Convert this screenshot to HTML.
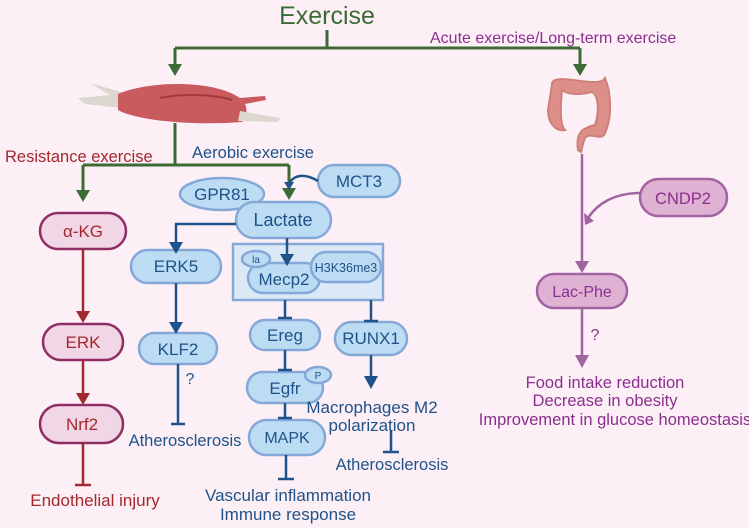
<!DOCTYPE html>
<html><head><meta charset="utf-8"><style>
html,body{margin:0;padding:0;background:#fcf0f6;}
svg{display:block;font-family:"Liberation Sans",sans-serif;}
</style></head><body>
<svg width="749" height="528" viewBox="0 0 749 528" xmlns="http://www.w3.org/2000/svg">
<rect width="749" height="528" fill="#fcf0f6"/>

<!-- Exercise -->
<text x="327" y="24" font-size="25" fill="#3d6b35" text-anchor="middle">Exercise</text>
<g stroke="#3d6b35" stroke-width="3" fill="none">
<path d="M327,30 V48 M175,48 H580 M175,48 V66 M580,48 V66"/>
<path d="M175,123 V165 M83,165 H289 M83,165 V192 M289,165 V192"/>
</g>
<g fill="#3d6b35">
<path d="M168,64 L182,64 L175,76 Z"/><path d="M573,64 L587,64 L580,76 Z"/>
<path d="M76,190 L90,190 L83,202 Z"/><path d="M282,188 L296,188 L289,200 Z"/>
</g>
<text x="430" y="43" font-size="16" fill="#8b2f8f">Acute exercise/Long-term exercise</text>

<!-- muscle -->
<path d="M90,83 L135,96 L125,104 Z" fill="#dcd8d0"/>
<path d="M78,98 L122,94 L122,108 L85,104 Z" fill="#dcd8d0"/>
<path d="M118,94 C150,80 215,80 240,98 L265,96 L266,100 L245,104 C248,110 246,118 242,122 C190,126 135,120 118,110 Z" fill="#c95a5e"/>
<path d="M240,111 L280,118 L278,122 L238,121 Z" fill="#dcd8d0"/>
<path d="M160,98 C190,92 220,96 232,100" stroke="#a03a3e" stroke-width="2" fill="none"/>

<!-- colon -->
<path d="M552,85 C550,70 600,90 605,78 C612,95 612,120 604,135 C600,140 590,132 585,138 C582,145 582,150 581,152 L578,150 C575,130 585,128 595,125 C600,110 598,95 592,92 C580,95 568,95 562,90 C560,110 560,125 565,130 C558,132 548,125 548,110 Z" fill="#dd8e88" stroke="#cf7f7a" stroke-width="2"/>

<!-- labels -->
<text x="5" y="162" font-size="16.5" fill="#a3282e">Resistance exercise</text>
<text x="192" y="158" font-size="16.5" fill="#1f5288">Aerobic exercise</text>

<!-- blue nodes -->
<g fill="#bcdcf3" stroke="#86a8d8" stroke-width="2.5">
<rect x="318" y="165" width="82" height="32" rx="16"/>
<ellipse cx="222" cy="194" rx="42" ry="16"/>
<rect x="236" y="202" width="95" height="36" rx="18"/>
<rect x="131" y="250" width="90" height="33" rx="16.5"/>
<rect x="139" y="333" width="78" height="31" rx="15.5"/>
</g>
<rect x="233" y="244" width="150" height="56" fill="#dbe9f7" stroke="#86a8d8" stroke-width="2.5"/>
<g fill="#bcdcf3" stroke="#86a8d8" stroke-width="2.5">
<rect x="248" y="263" width="72" height="30" rx="15"/>
<ellipse cx="256" cy="259" rx="14" ry="8"/>
<rect x="311" y="252" width="70" height="30" rx="15"/>
<rect x="250" y="320" width="70" height="30" rx="15"/>
<rect x="335" y="322" width="72" height="33" rx="16.5"/>
<rect x="247" y="372" width="76" height="31" rx="15.5"/>
<ellipse cx="318" cy="375" rx="13" ry="8"/>
<rect x="249" y="420" width="76" height="35" rx="17.5"/>
</g>
<g fill="#1f5288" text-anchor="middle">
<text x="359" y="187" font-size="17">MCT3</text>
<text x="222" y="200" font-size="17">GPR81</text>
<text x="283" y="226" font-size="18">Lactate</text>
<text x="176" y="272" font-size="17">ERK5</text>
<text x="178" y="355" font-size="17">KLF2</text>
<text x="256" y="263" font-size="10">la</text>
<text x="284" y="285" font-size="17">Mecp2</text>
<text x="346" y="272" font-size="12.5">H3K36me3</text>
<text x="285" y="341" font-size="17">Ereg</text>
<text x="371" y="344" font-size="17">RUNX1</text>
<text x="285" y="394" font-size="17">Egfr</text>
<text x="318" y="379" font-size="10">P</text>
<text x="287" y="443" font-size="16">MAPK</text>
<text x="190" y="384" font-size="16">?</text>
<text x="185" y="446" font-size="16.5">Atherosclerosis</text>
<text x="288" y="501" font-size="17">Vascular inflammation</text>
<text x="288" y="520" font-size="17">Immune response</text>
<text x="372" y="413" font-size="17">Macrophages M2</text>
<text x="372" y="431" font-size="17">polarization</text>
<text x="392" y="470" font-size="16.5">Atherosclerosis</text>
</g>
<g stroke="#1f5288" stroke-width="2.5" fill="none">
<path d="M318,181 C305,173 295,175 290,182"/>
<path d="M236,224 H176 V242"/>
<path d="M287,238 V256"/>
<path d="M176,283 V324"/>
<path d="M285,300 V318 M278,318 H292"/>
<path d="M371,300 V321 M364,321 H378"/>
<path d="M285,350 V370 M278,370 H292"/>
<path d="M285,403 V418 M278,418 H292"/>
<path d="M286,455 V479 M278,479 H294"/>
<path d="M371,355 V376"/>
<path d="M391,430 V452 M383,452 H399"/>
<path d="M178,364 V424 M171,424 H185"/>
</g>
<g fill="#1f5288">
<path d="M284,182 L294,182 L289,190 Z"/>
<path d="M169,242 L183,242 L176,254 Z"/>
<path d="M280,254 L294,254 L287,266 Z"/>
<path d="M169,322 L183,322 L176,334 Z"/>
<path d="M364,376 L378,376 L371,389 Z"/>
</g>

<!-- left red chain -->
<g fill="#f1d6e6" stroke="#8f2e64" stroke-width="2.5">
<rect x="40" y="213" width="86" height="36" rx="18"/>
<rect x="43" y="324" width="80" height="36" rx="18"/>
<rect x="40" y="405" width="83" height="38" rx="19"/>
</g>
<g fill="#a3282e" text-anchor="middle" font-size="17">
<text x="83" y="237">α-KG</text>
<text x="83" y="348">ERK</text>
<text x="82" y="430">Nrf2</text>
<text x="95" y="506">Endothelial injury</text>
</g>
<g stroke="#a3282e" stroke-width="2.5" fill="none">
<path d="M83,249 V312 M83,360 V394 M83,443 V485 M75,485 H91"/>
</g>
<g fill="#a3282e">
<path d="M76,311 L90,311 L83,323 Z"/><path d="M76,393 L90,393 L83,405 Z"/>
</g>

<!-- right purple -->
<g fill="#dfb2d3" stroke="#a163a2" stroke-width="2.5">
<rect x="640" y="179" width="87" height="37" rx="18.5"/>
<rect x="537" y="274" width="90" height="34" rx="17"/>
</g>
<g stroke="#a163a2" stroke-width="2.5" fill="none">
<path d="M582,154 V262 M582,308 V356"/>
<path d="M640,193 C615,193 598,203 588,218"/>
</g>
<g fill="#a163a2">
<path d="M575,261 L589,261 L582,273 Z"/><path d="M575,355 L589,355 L582,368 Z"/>
<path d="M584,213 L594,221 L585,225 Z"/>
</g>
<g fill="#8b2f8f" text-anchor="middle">
<text x="683" y="204" font-size="16.5">CNDP2</text>
<text x="582" y="297" font-size="16">Lac-Phe</text>
<text x="595" y="340" font-size="16">?</text>
<text x="605" y="388" font-size="16.5">Food intake reduction</text>
<text x="605" y="406" font-size="16.5">Decrease in obesity</text>
<text x="615" y="425" font-size="16.5">Improvement in glucose homeostasis</text>
</g>
</svg>
</body></html>
